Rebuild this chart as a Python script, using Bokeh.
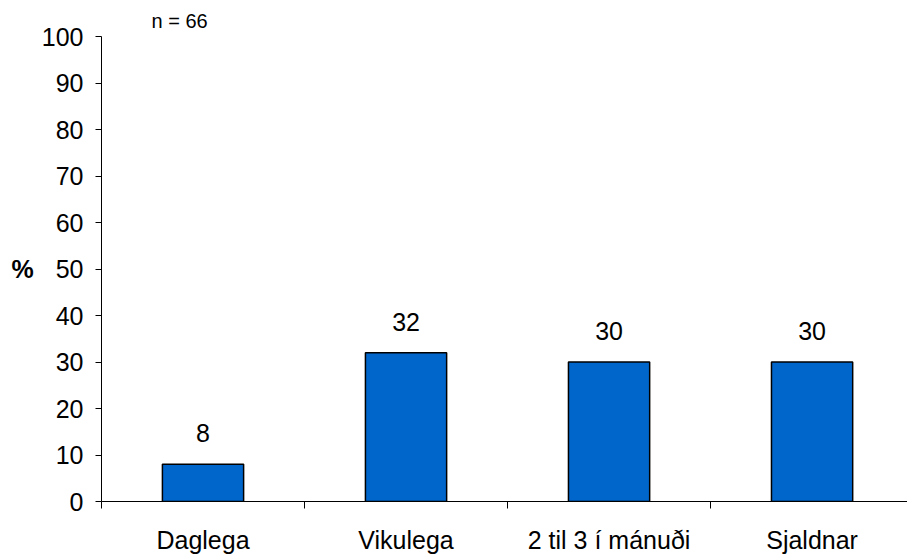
from bokeh.plotting import figure
from bokeh.models import ColumnDataSource, FixedTicker, Range1d
from bokeh.core.properties import value
from bokeh.embed import file_html
from bokeh.resources import INLINE

categories = ["Daglega", "Vikulega", "2 til 3 í mánuði", "Sjaldnar"]
values = [8, 32, 30, 30]
y_ticks = [0, 10, 20, 30, 40, 50, 60, 70, 80, 90, 100]
n_text = "n = 66"
y_label = "%"

FONT = "Liberation Sans"
FS = "25px"

xs = [i + 0.5 for i in range(len(categories))]
src = ColumnDataSource(dict(x=xs, top=values, lbl=[str(v) for v in values]))

p = figure(width=907, height=556, output_backend="svg", toolbar_location=None,
           x_range=Range1d(0, 3.97), y_range=Range1d(0, 100),
           min_border_left=101, min_border_top=36, min_border_bottom=55, min_border_right=0)
p.outline_line_color = None
p.xgrid.grid_line_color = None
p.ygrid.grid_line_color = None

p.title.text = n_text
p.title.align = "left"
p.title.offset = 50
p.title.text_font = FONT
p.title.text_font_size = "20px"
p.title.text_font_style = "normal"
p.title.text_color = "black"
p.title.standoff = 9

p.vbar(x="x", top="top", bottom=0, width=0.4, source=src,
       fill_color="#0066CC", line_color="black", line_width=1.5)
p.text(x="x", y="top", text="lbl", source=src, text_align="center",
       text_baseline="bottom", y_offset=-22, text_font=value(FONT),
       text_font_size=FS, text_color="black")

# x axis
xa = p.xaxis[0]
xa.ticker = FixedTicker(ticks=xs, minor_ticks=list(range(len(categories) + 1)))
xa.major_label_overrides = {x: c for x, c in zip(xs, categories)}
xa.major_tick_line_color = None
xa.major_tick_out = 0
xa.minor_tick_in = 0
xa.minor_tick_out = 7
xa.minor_tick_line_color = "black"
xa.axis_line_color = "black"
xa.major_label_standoff = 17
xa.major_label_text_font = FONT
xa.major_label_text_font_size = FS
xa.major_label_text_color = "black"

ya = p.yaxis[0]
ya.ticker = FixedTicker(ticks=y_ticks, minor_ticks=[])
ya.major_tick_in = 0
ya.major_tick_out = 6
ya.major_label_standoff = 12
ya.major_label_text_font = FONT
ya.major_label_text_font_size = FS
ya.major_label_text_color = "black"
ya.axis_line_color = "black"
ya.major_tick_line_color = "black"
ya.axis_label = y_label
ya.axis_label_text_font = FONT
ya.axis_label_text_font_size = FS
ya.axis_label_text_font_style = "bold"
ya.axis_label_text_color = "black"
ya.axis_label_standoff = 5
try:
    ya.axis_label_orientation = "horizontal"
except Exception:
    pass

open("out.html", "w").write(file_html(p, INLINE))
